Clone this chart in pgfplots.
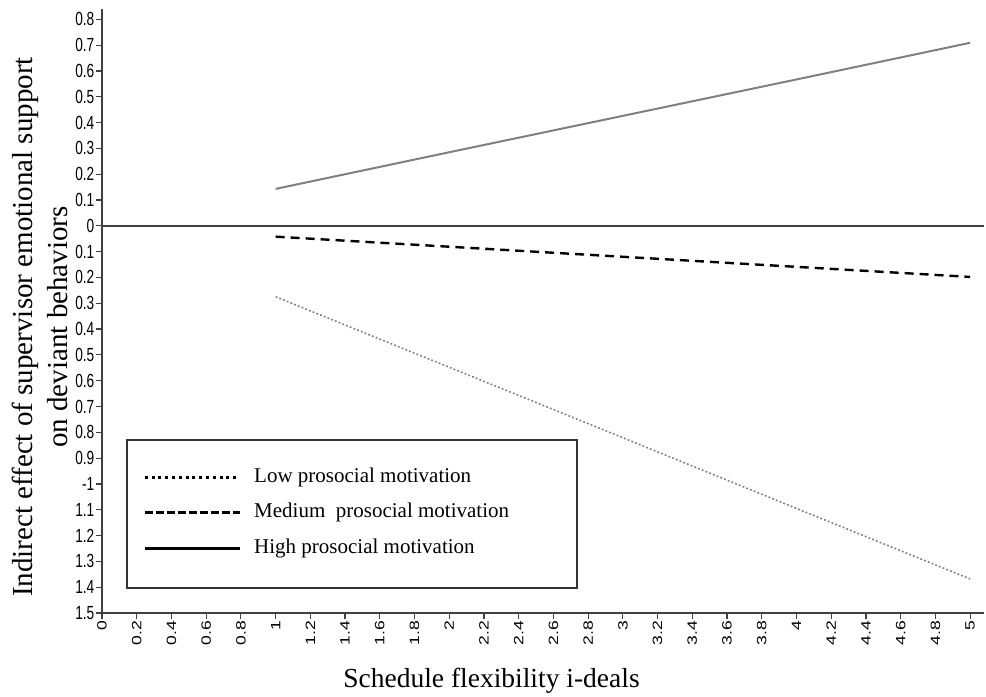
\documentclass[border=0pt]{standalone}
\usepackage{fontspec}
\setmainfont{Liberation Serif}
\newfontfamily\tickfont{Liberation Sans}
\usepackage{pgfplots}
\pgfplotsset{compat=1.18}
\newcommand\xs[1]{\scalebox{1.3}[1]{\tickfont\fontsize{13.5}{13.5}\selectfont #1}}
\newcommand\ys[1]{\scalebox{0.72}[1]{\tickfont\fontsize{19}{19}\selectfont #1}}
\begin{document}
\begin{tikzpicture}
\begin{axis}[
  scale only axis, width=882pt, height=604pt,
  xmin=0, xmax=5.08, ymin=-1.5, ymax=0.84,
  axis x line=bottom, axis y line=left,
  axis line style={-, line width=1.6pt, color=black!75},
  xtick={0,0.2,0.4,0.6,0.8,1,1.2,1.4,1.6,1.8,2,2.2,2.4,2.6,2.8,3,3.2,3.4,3.6,3.8,4,4.2,4.4,4.6,4.8,5},
  xticklabels={\xs{0},\xs{0.2},\xs{0.4},\xs{0.6},\xs{0.8},\xs{1},\xs{1.2},\xs{1.4},\xs{1.6},\xs{1.8},\xs{2},\xs{2.2},\xs{2.4},\xs{2.6},\xs{2.8},\xs{3},\xs{3.2},\xs{3.4},\xs{3.6},\xs{3.8},\xs{4},\xs{4.2},\xs{4.4},\xs{4.6},\xs{4.8},\xs{5}},
  ytick={-1.5,-1.4,-1.3,-1.2,-1.1,-1,-0.9,-0.8,-0.7,-0.6,-0.5,-0.4,-0.3,-0.2,-0.1,0,0.1,0.2,0.3,0.4,0.5,0.6,0.7,0.8},
  yticklabels={\ys{1.5},\ys{1.4},\ys{1.3},\ys{1.2},\ys{1.1},\ys{-1},\ys{0.9},\ys{0.8},\ys{0.7},\ys{0.6},\ys{0.5},\ys{0.4},\ys{0.3},\ys{0.2},\ys{0.1},\ys{0},\ys{0.1},\ys{0.2},\ys{0.3},\ys{0.4},\ys{0.5},\ys{0.6},\ys{0.7},\ys{0.8}},
  minor tick num=0,
  tick align=outside, major tick length=6pt,
  tick style={line width=1.2pt, black!75},
  xticklabel style={rotate=90, anchor=east, inner sep=2pt},
  yticklabel style={inner sep=1.5pt},
  clip=false,
  legend image code/.code={\draw[#1] (0pt,0pt) -- (95pt,0pt);},
  legend cell align=left,
  legend style={draw=none, fill=none, at={(rel axis cs:0.0465,0.245)}, anchor=north west,
    font=\fontsize{21}{21}\selectfont, row sep=11.5pt, inner sep=0pt,
    nodes={text height=15pt, text depth=5pt, inner sep=2pt},
    /tikz/every odd column/.append style={column sep=11pt}},
]
% zero line
\addplot[forget plot, black!75, line width=1.6pt] coordinates {(0,0) (5.08,0)};
% series
\addplot[forget plot, black!50, line width=1.6pt, dash pattern=on 1.8pt off 2.2pt] coordinates {
  (1,-0.275) (2,-0.548) (3,-0.821) (4,-1.095) (5,-1.368)};
\addplot[forget plot, black, line width=2.4pt, dash pattern=on 9pt off 6pt] coordinates {
  (1,-0.042) (2,-0.081) (3,-0.120) (4,-0.159) (5,-0.198)};
\addplot[forget plot, black!50, line width=2pt] coordinates {
  (1,0.143) (2,0.285) (3,0.426) (4,0.567) (5,0.709)};
% legend
\addlegendimage{black, line width=3pt, dash pattern=on 3pt off 3.8pt}
\addlegendentry{Low prosocial motivation}
\addlegendimage{black, line width=3pt, dash pattern=on 8pt off 3pt}
\addlegendentry{Medium\ \ prosocial motivation}
\addlegendimage{black, line width=3pt}
\addlegendentry{High prosocial motivation}
\draw[line width=1.3pt, black!80] (rel axis cs:0.0283,0.2864) rectangle (rel axis cs:0.5385,0.0414);
% axis labels
\node[rotate=90, align=center, font=\fontsize{29}{35}\selectfont] at (rel axis cs:-0.0703,0.4735)
  {Indirect effect of supervisor emotional support\\on deviant behaviors};
\node[anchor=base, font=\fontsize{27.5}{30}\selectfont] at (rel axis cs:0.4416,-0.124)
  {Schedule flexibility i-deals};
\coordinate (bbl) at (rel axis cs:-0.11565,-0.13907);
\coordinate (btr) at (rel axis cs:1.00227,1.0149);
\end{axis}
\pgfresetboundingbox
\useasboundingbox (bbl) rectangle (btr);
\end{tikzpicture}
\end{document}
